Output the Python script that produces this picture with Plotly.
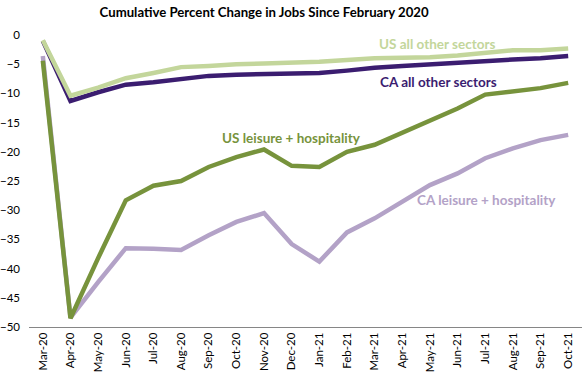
import plotly.graph_objects as go

months = ["Mar-20", "Apr-20", "May-20", "Jun-20", "Jul-20", "Aug-20", "Sep-20", "Oct-20",
          "Nov-20", "Dec-20", "Jan-21", "Feb-21", "Mar-21", "Apr-21", "May-21", "Jun-21",
          "Jul-21", "Aug-21", "Sep-21", "Oct-21"]

us_other = [-0.9, -10.4, -9.0, -7.4, -6.5, -5.5, -5.3, -5.0, -4.9, -4.8, -4.6, -4.3,
            -4.0, -3.9, -3.8, -3.5, -3.0, -2.6, -2.6, -2.3]
ca_other = [-1.0, -11.3, -9.8, -8.5, -8.1, -7.6, -7.0, -6.8, -6.7, -6.6, -6.5, -6.1,
            -5.6, -5.3, -5.0, -4.8, -4.5, -4.2, -4.0, -3.6]
us_lh = [-4.4, -48.5, -38.2, -28.3, -25.8, -25.0, -22.6, -20.9, -19.6, -22.4, -22.6, -20.0,
         -18.8, -16.8, -14.8, -12.6, -10.2, -9.7, -9.1, -8.2]
ca_lh = [-3.6, -48.4, -42.3, -36.5, -36.6, -36.8, -34.3, -32.0, -30.5, -35.8, -38.8, -33.8,
         -31.4, -28.5, -25.7, -23.7, -21.1, -19.4, -18.0, -17.1]

c_us_other = "#c3d69b"
c_ca_other = "#3b1d70"
c_us_lh = "#77933c"
c_ca_lh = "#b3a2c7"

fig = go.Figure()
for name, vals, col in [("CA leisure + hospitality", ca_lh, c_ca_lh),
                        ("US leisure + hospitality", us_lh, c_us_lh),
                        ("CA all other sectors", ca_other, c_ca_other),
                        ("US all other sectors", us_other, c_us_other)]:
    fig.add_trace(go.Scatter(x=months, y=vals, mode="lines", name=name,
                             line=dict(color=col, width=4.5), showlegend=False))

ann = [("US all other sectors", 14.25, -1.5, c_us_other),
       ("CA all other sectors", 14.3, -8.1, c_ca_other),
       ("US leisure + hospitality", 9.0, -17.7, c_us_lh),
       ("CA leisure + hospitality", 16.05, -28.2, c_ca_lh)]
for text, xi, yv, col in ann:
    fig.add_annotation(x=xi, y=yv, xref="x", yref="y", text="<b>%s</b>" % text,
                       showarrow=False, font=dict(family="Lato", size=13.5, color=col))

fig.update_layout(
    width=583, height=383,
    margin=dict(l=29, r=1, t=35, b=56),
    paper_bgcolor="white", plot_bgcolor="white",
    font=dict(family="Lato", color="#000000"),
    title=dict(text="<b>Cumulative Percent Change in Jobs Since February 2020</b>",
               x=0.453, xanchor="center", y=0.968, yanchor="middle",
               font=dict(family="Lato", size=13.2, color="#000000")),
    xaxis=dict(type="category", range=[-0.5, 19.5], showline=True, linecolor="#868686",
               linewidth=1, tickangle=-90, ticks="", tickfont=dict(size=11.5, color="#000000"),
               showgrid=False, zeroline=False, automargin=False),
    yaxis=dict(range=[-50, 0], dtick=5, showline=False, showgrid=False, zeroline=False,
               ticks="", tickfont=dict(size=11.5, color="#000000"), ticklabelstandoff=8,
               automargin=False),
)

fig.write_html("out.html", config={"displayModeBar": False},
               post_script="document.body.style.margin='0px';document.body.style.overflow='hidden';")
